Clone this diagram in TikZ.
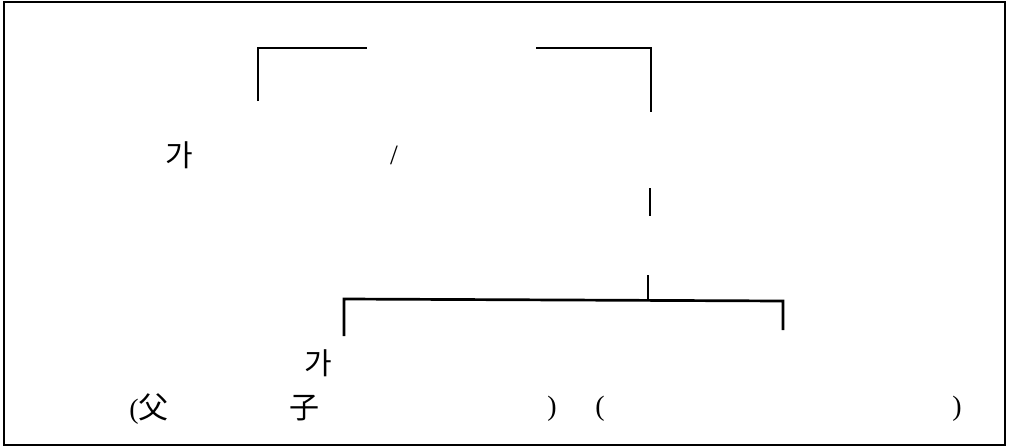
\documentclass[tikz,border=0pt]{standalone}
\usepackage{fontspec}
\setmainfont{Liberation Serif}
\newfontfamily\kr{Noto Sans CJK KR}
\usetikzlibrary{positioning}

\begin{document}
\begin{tikzpicture}[x=1pt, y=-1pt,
  ln/.style={line width=2.7pt},
  frame/.style={line width=1.8pt},
  kt/.style={inner sep=0pt, anchor=base, font=\kr\fontsize{30}{30}\selectfont},
  lt/.style={inner sep=0pt, anchor=base, font=\fontsize{28}{28}\selectfont}]
\useasboundingbox (0,0) rectangle (1009,447);
\draw[frame] (4,2) rectangle (1005,445);
% bracket ends
\foreach \n/\x/\y in
  {tl0/258/101, tl1/258/48, tl2/367/48, tr0/536/48, tr1/651/48, tr2/651/112,
   m0/650/188, m1/650/216, m2/648/275, m3/648/301,
   bl0/344/336, bl1/344/299, br1/783/301, br0/783/330}
  \coordinate (\n) at (\x,\y);
% texts
\foreach \n/\s/\x/\y/\l in
  {ga1/kt/179/166/가, sl/lt/394/164/{/}, ga2/kt/318/374/가,
   fu/kt/149/418/{{\fontspec{Liberation Serif}\fontsize{28}{28}\selectfont(}父},
   ja/kt/304/418/子, rp1/lt/552/415/{)}, lp2/lt/600/415/{(}, rp2/lt/957/415/{)}}
  \node[\s] (\n) at (\x,\y) {\l};
\draw[ln] (tl0) -- (tl1) -- (tl2);
\draw[ln] (tr0) -- (tr1) -- (tr2);
\draw[ln] (m0) -- (m1);
\draw[ln] (m2) -- (m3);
\draw[ln] (bl0) -- (bl1) -- (br1) -- (br0);
\end{tikzpicture}
\end{document}
